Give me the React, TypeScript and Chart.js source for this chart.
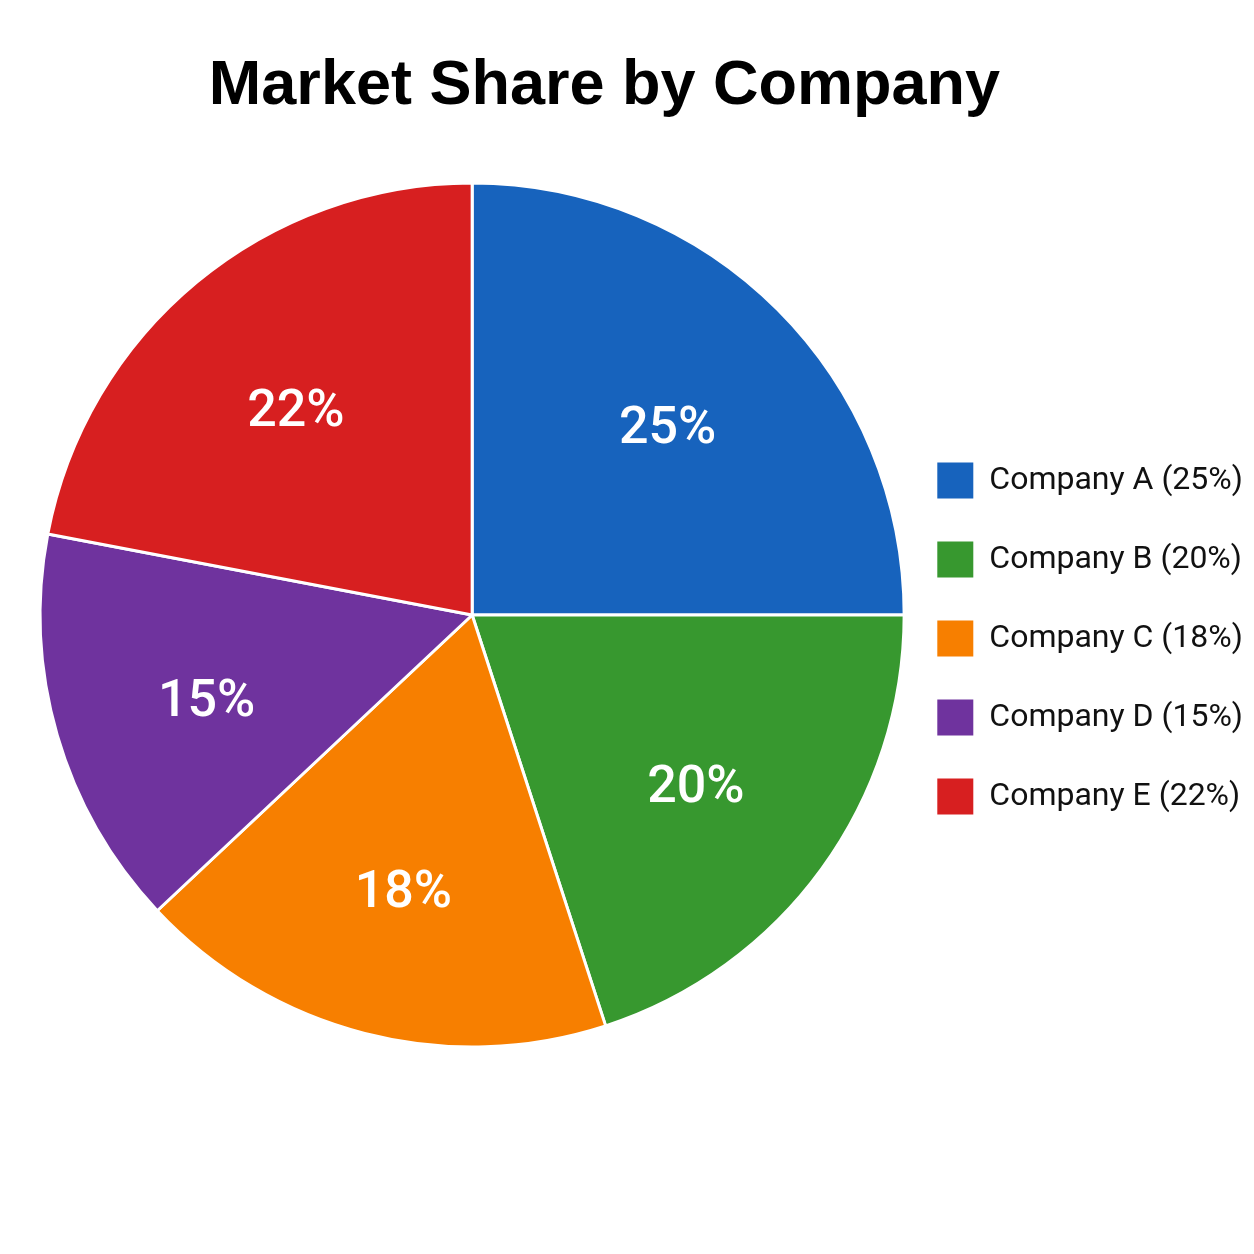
import { useEffect, useRef } from 'react';
import Chart from 'chart.js/auto';

const companies = ['Company A', 'Company B', 'Company C', 'Company D', 'Company E'];
const shares = [25, 20, 18, 15, 22];
const sliceColors = ['#1763bd', '#37982f', '#f77f00', '#6f339e', '#d71f20'];
const chartTitle = 'Market Share by Company';

// draws the heading a bit left of the canvas centre, like the reference
const titlePlugin = {
  id: 'bigTitle',
  afterDraw(chart: any, _args: any, opts: any) {
    const ctx = chart.ctx;
    ctx.save();
    ctx.font = 'bold 63px "Liberation Sans", Arial, sans-serif';
    ctx.fillStyle = '#000';
    ctx.textAlign = 'center';
    ctx.textBaseline = 'alphabetic';
    ctx.fillText(opts.text, chart.width * opts.xRatio, opts.baseline);
    ctx.restore();
  },
};

// percentage inside every slice
const sliceLabels = {
  id: 'sliceLabels',
  afterDatasetsDraw(chart: any) {
    const ctx = chart.ctx;
    const meta = chart.getDatasetMeta(0);
    ctx.save();
    ctx.font = '500 52px Roboto, sans-serif';
    ctx.fillStyle = '#fff';
    ctx.textAlign = 'center';
    ctx.textBaseline = 'alphabetic';
    meta.data.forEach((arc: any, i: number) => {
      const { x, y, startAngle, endAngle, outerRadius } = arc.getProps(
        ['x', 'y', 'startAngle', 'endAngle', 'outerRadius'],
        true
      );
      const mid = (startAngle + endAngle) / 2;
      const r = outerRadius * 0.64;
      // baseline sits about half a cap height below the label centre (+ a small drop)
      ctx.fillText(shares[i] + '%', x + Math.cos(mid) * r, y + Math.sin(mid) * r + 24);
    });
    ctx.restore();
  },
};

const App = () => {
  const chartRef = useRef<HTMLCanvasElement | null>(null);
  const chartInstanceRef = useRef<Chart | null>(null);

  useEffect(() => {
    if (chartRef.current) {
      const ctx = chartRef.current.getContext('2d');
      if (ctx) {
        if (chartInstanceRef.current) {
          chartInstanceRef.current.destroy();
        }
        chartInstanceRef.current = new Chart(ctx, {
          type: 'pie',
          data: {
            labels: companies.map((c, i) => `${c} (${shares[i]}%)`),
            datasets: [{
              data: shares,
              backgroundColor: sliceColors,
              borderColor: '#fff',
              borderWidth: 3,
              hoverOffset: 0,
              radius: 432,
            }]
          },
          options: {
            animation: false,
            responsive: true,
            maintainAspectRatio: false,
            events: [],
            layout: {
              padding: { top: 170, bottom: 194, left: 42, right: -7 }
            },
            plugins: {
              tooltip: { enabled: false },
              legend: {
                position: 'right',
                align: 'center',
                title: { display: true, text: '', font: { size: 20 }, padding: 11.5 },
                labels: {
                  boxWidth: 36,
                  boxHeight: 36,
                  padding: 43,
                  color: '#111',
                  font: { family: 'Roboto, sans-serif', size: 32 },
                  generateLabels: (chart: any) =>
                    (Chart as any).overrides.pie.plugins.legend.labels
                      .generateLabels(chart)
                      .map((l: any) => ({ ...l, lineWidth: 0 })),
                },
              },
              bigTitle: { text: chartTitle, xRatio: 0.4818, baseline: 96 },
            } as any,
          },
          plugins: [titlePlugin, sliceLabels],
        });
      }
    }
    return () => {
      if (chartInstanceRef.current) {
        chartInstanceRef.current.destroy();
        chartInstanceRef.current = null;
      }
    };
  }, []);

  return (
    <div style={{ position: 'relative', width: 1238, height: 1238, background: '#fff' }}>
      <canvas ref={chartRef}></canvas>
    </div>
  );
};

export default App;
